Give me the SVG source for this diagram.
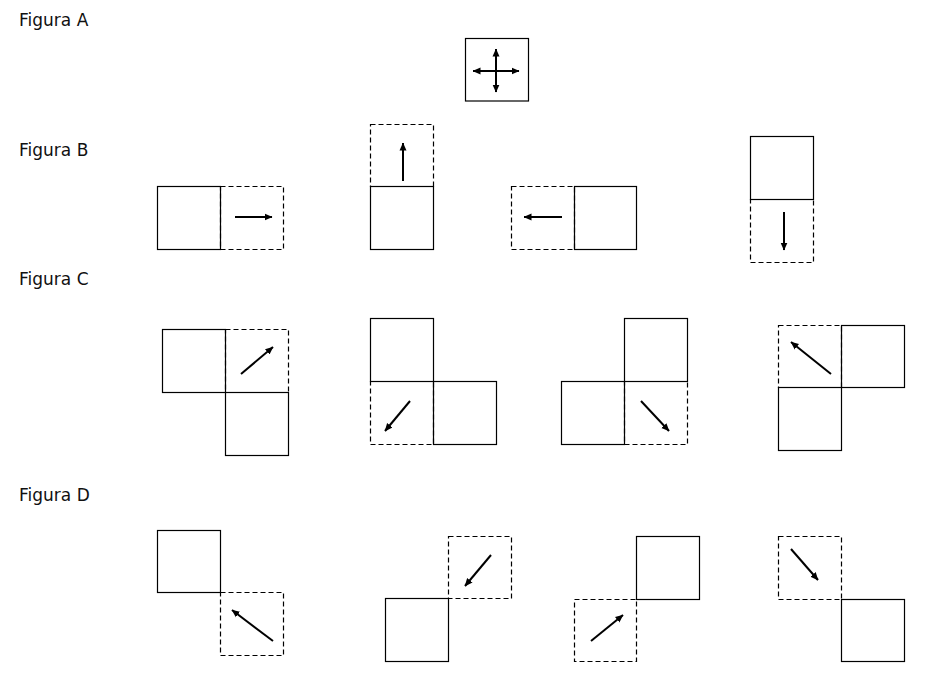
<svg xmlns="http://www.w3.org/2000/svg" width="937" height="695" viewBox="0 0 937 695">
<defs>
<marker id="ah" viewBox="0 0 8 8" markerWidth="8" markerHeight="8" refX="7.5" refY="4" orient="auto-start-reverse" markerUnits="userSpaceOnUse">
<path d="M0,0.5 L8,4 L0,7.5 z" fill="#000"/>
</marker>
<style>
.lbl{font-family:"DejaVu Sans","Liberation Sans",sans-serif;font-size:17px;fill:#111}
.s{fill:none;stroke:#000;stroke-width:1.2}
.d{fill:none;stroke:#000;stroke-width:1.2;stroke-dasharray:5,3}
.ar{stroke:#000;stroke-width:2;fill:none;marker-end:url(#ah)}
.ar2{stroke:#000;stroke-width:2;fill:none;marker-end:url(#ah);marker-start:url(#ah)}
</style>
</defs>
<rect width="937" height="695" fill="#fff"/>
<g id="labels">
<text class="lbl" x="19" y="25.5">Figura A</text>
<text class="lbl" x="19" y="155.5">Figura B</text>
<text class="lbl" x="19" y="284.5">Figura C</text>
<text class="lbl" x="19" y="500.5">Figura D</text>
</g>
<g id="figA">
<rect class="s" x="465.5" y="38.5" width="63" height="62.5"/>
</g>
<g id="figB1">
<rect class="d" x="220.5" y="186.5" width="63" height="63"/>
<rect class="s" x="157.5" y="186.5" width="63" height="63"/>
</g>
<g id="figB2">
<rect class="d" x="370.5" y="124.5" width="63" height="62"/>
<rect class="s" x="370.5" y="186.5" width="63" height="63"/>
</g>
<g id="figB3">
<rect class="d" x="511.5" y="186.5" width="63" height="63"/>
<rect class="s" x="574.5" y="186.5" width="62" height="63"/>
</g>
<g id="figB4">
<rect class="d" x="750.5" y="199.5" width="63" height="63"/>
<rect class="s" x="750.5" y="136.5" width="63" height="63"/>
</g>
<g id="figC1">
<rect class="d" x="225.5" y="329.5" width="63" height="63"/>
<rect class="s" x="162.5" y="329.5" width="63" height="63"/>
<rect class="s" x="225.5" y="392.5" width="63" height="63"/>
</g>
<g id="figC2">
<rect class="d" x="370.5" y="381.5" width="63" height="63"/>
<rect class="s" x="370.5" y="318.5" width="63" height="63"/>
<rect class="s" x="433.5" y="381.5" width="63" height="63"/>
</g>
<g id="figC3">
<rect class="d" x="624.5" y="381.5" width="63" height="63"/>
<rect class="s" x="624.5" y="318.5" width="63" height="63"/>
<rect class="s" x="561.5" y="381.5" width="63" height="63"/>
</g>
<g id="figC4">
<rect class="d" x="778.5" y="325.5" width="63" height="62"/>
<rect class="s" x="841.5" y="325.5" width="63" height="62"/>
<rect class="s" x="778.5" y="387.5" width="63" height="63"/>
</g>
<g id="figD1">
<rect class="d" x="220.5" y="592.5" width="63" height="63"/>
<rect class="s" x="157.5" y="530.5" width="63" height="62"/>
</g>
<g id="figD2">
<rect class="d" x="448.5" y="536.5" width="63" height="62"/>
<rect class="s" x="385.5" y="598.5" width="63" height="63"/>
</g>
<g id="figD3">
<rect class="d" x="574.5" y="599.5" width="62" height="62"/>
<rect class="s" x="636.5" y="536.5" width="63" height="63"/>
</g>
<g id="figD4">
<rect class="d" x="778.5" y="536.5" width="63" height="63"/>
<rect class="s" x="841.5" y="599.5" width="63" height="62"/>
</g>
<g id="connectors">
<line class="ar2" x1="473" y1="71" x2="519" y2="71"/>
<line class="ar2" x1="496" y1="49" x2="496" y2="92"/>
<line class="ar" x1="235" y1="217" x2="272" y2="217"/>
<line class="ar" x1="403" y1="181" x2="403" y2="143"/>
<line class="ar" x1="562" y1="217" x2="524" y2="217"/>
<line class="ar" x1="784" y1="212" x2="784" y2="250"/>
<line class="ar" x1="241" y1="374" x2="273" y2="347"/>
<line class="ar" x1="410" y1="401" x2="385" y2="431"/>
<line class="ar" x1="641" y1="401" x2="669" y2="431"/>
<line class="ar" x1="831" y1="374" x2="791" y2="342"/>
<line class="ar" x1="273" y1="641" x2="232" y2="610"/>
<line class="ar" x1="491" y1="555" x2="465" y2="586"/>
<line class="ar" x1="591" y1="641" x2="623" y2="615"/>
<line class="ar" x1="791" y1="549" x2="818" y2="580"/>
</g>
</svg>
